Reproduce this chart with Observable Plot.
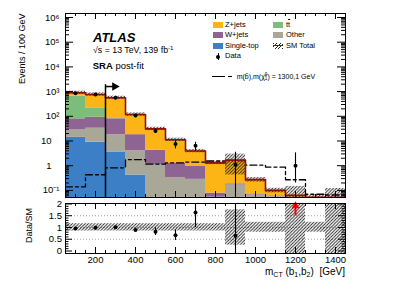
<!DOCTYPE html>
<html><head><meta charset="utf-8">
<script src="https://cdn.jsdelivr.net/npm/d3@7"></script>
<script src="https://cdn.jsdelivr.net/npm/@observablehq/plot@0.6"></script>
<style>
body{margin:0;background:#fff;font-family:"Liberation Sans",Arial,Helvetica,sans-serif;}
#wrap{position:relative;width:399px;height:286px;overflow:hidden;background:#fff;}
#main,#ratio{position:absolute;left:0;}
#main{top:0}
#ratio{top:200px}
.t{position:absolute;white-space:nowrap;color:#000;line-height:1;}
.sb{font-size:70%;position:relative;top:0.3em;}
.sp{font-size:70%;position:relative;top:-0.45em;}
.sw{position:absolute;}
</style></head><body><div id="wrap"><div id="main"></div><div id="ratio"></div></div>
<script>
// ---------------- data ----------------
const binCenter = [100,200,300,400,500,600,700,800,900,1000,1100,1200,1300,1400];
const binWidth = 100;
const singleTop = [14, 8.9, 3.6, 0.42, 0, 0, 0, 0, 0, 0, 0, 0, 0, 0];
const other     = [14, 24, 14.4, 3.6, 1.1, 0.33, 0.28, 0.053, 0.165, 0.065, 0.055, 0.05, 0.05, 0.05];
const wJets     = [51, 59, 61, 14, 3.1, 0.9, 0.65, 0.025, 0.02, 0.007, 0.005, 0.003, 0.002, 0.001];
const ttbar     = [571, 128, 2, 0, 0, 0, 0, 0, 0, 0, 0, 0, 0, 0];
const zJets     = [245, 545, 480, 100, 26.8, 10, 3.0, 1.22, 1.5, 0.2, 0.04, 0.01, 0.001, 0.001];
const signal    = [0.14, 0.43, 0.82, 1.75, 1.15, 1.3, 1.4, 1.55, 1.6, 1.05, 0.88, 0.27, 0.07, 0.065];
const dataVal   = [860, 757, 567, 108, 25.4, 7.5, 6.4, 0, 1.1, 0, 0, 1.0, 0, 0];
const dataLow   = [830, 730, 543, 98, 20.4, 4.8, 3.9, 0, 0.01, 0, 0, 0.2, 0, 0];
const dataHigh  = [890, 785, 591, 118, 30.4, 10.2, 8.9, 0, 3.5, 0, 0, 3.3, 0, 0];
const ratioVal  = [0.96, 0.99, 1.01, 0.89, 0.82, 0.67, 1.64, null, 0.65, null, null, null, null, null];
const ratioLow  = [0.93, 0.96, 0.97, 0.84, 0.66, 0.45, 1.0, null, -0.3, null, null, null, null, null];
const ratioHigh = [0.99, 1.02, 1.05, 0.94, 0.98, 0.89, 2.3, null, 2.5, null, null, null, null, null];
const bandLow   = [0.85, 0.85, 0.85, 0.85, 0.85, 0.85, 0.85, 0.85, 0.25, 0.8, 0.8, -0.3, 0.8, -0.3];
const bandHigh  = [1.16, 1.16, 1.16, 1.16, 1.16, 1.16, 1.16, 1.16, 1.75, 1.22, 1.22, 2.3, 1.22, 2.3];
const offScaleBins = [1200];
const cutValue = [250];
const cutTop = 1900, cutArrowY = 1600, cutArrowEnd = 292;
const xTicks = [200,400,600,800,1000,1200,1400];
const xTickLabels = ["200","400","600","800","1000","1200","1400"];
const yExpTicks = [0.1,100,1000,1e4,1e5,1e6];
const yExpLabels = ["10\u207B\u00B9","10\u00B2","10\u00B3","10\u2074","10\u2075","10\u2076"];
const yPlainTicks = [1,10];
const yPlainLabels = ["1","10"];
const rTicks = [0,0.5,1,1.5,2];
const rTickLabels = ["0","0.5","1","1.5","2"];

const colors = {st:"#3d7fc6", other:"#a9a797", w:"#8d6492", tt:"#7dbd7a", z:"#fdb515", total:"#8b1010"};

// ---------------- derived ----------------
const FLOOR = 1e-3;
const comps = [
  {vals: singleTop, color: colors.st},
  {vals: other, color: colors.other},
  {vals: wJets, color: colors.w},
  {vals: ttbar, color: colors.tt},
  {vals: zJets, color: colors.z}
];
const total = binCenter.map((c,i)=>comps.reduce((s,k)=>s+k.vals[i],0));
const compRows = comps.map(k=>{
  return binCenter.map((c,i)=>{
    let cum = 0; for (const kk of comps){ if (kk===k) break; cum += kk.vals[i]; }
    return {x1:c-binWidth/2, x2:c+binWidth/2, y1:Math.max(cum,FLOOR), y2:cum+k.vals[i], v:k.vals[i]};
  }).filter(d=>d.v>0);
});
const stepOf = arr => binCenter.map((c,i)=>({x:c-binWidth/2,y:arr[i]})).concat([{x:binCenter[binCenter.length-1]+binWidth/2,y:arr[arr.length-1]}]);
const mainBand = binCenter.map((c,i)=>({x1:c-binWidth/2,x2:c+binWidth/2,y1:Math.max(total[i]*bandLow[i],FLOOR),y2:total[i]*bandHigh[i]}));
const ratioBand = binCenter.map((c,i)=>({x1:c-binWidth/2,x2:c+binWidth/2,y1:bandLow[i],y2:bandHigh[i]}));
const dataRows = binCenter.map((c,i)=>({x:c,y:dataVal[i],lo:dataLow[i],hi:dataHigh[i]})).filter(d=>d.y>0);
const ratioRows = binCenter.map((c,i)=>({x:c,y:ratioVal[i],lo:ratioLow[i],hi:ratioHigh[i]})).filter(d=>d.y!=null);

const W = 399;
const mainH = 200, mm = {top:13,right:54,bottom:3,left:65};
const fH = mainH - mm.top - mm.bottom, fW = W - mm.left - mm.right;
const ratioH = 86, rm = {top:3,right:54,bottom:33,left:65};
const rH = ratioH - rm.top - rm.bottom;

const xMinor = d3.range(100,1450,50).filter(v=>v%200!==0);
const logMajor = [0.1,1,10,100,1e3,1e4,1e5,1e6];
const logMinor = [];
for (let e=-2;e<=6;e++) for (let k=2;k<=9;k++){ const v=k*Math.pow(10,e); if (v>0.0516 && v<1.45e6) logMinor.push(v); }
const rMinor = d3.range(0,2.01,0.1).map(v=>+v.toFixed(2)).filter(v=>!rTicks.includes(v));

const font = {fontFamily:"Liberation Sans, Arial, Helvetica, sans-serif", fontSize:"9.5px", background:"transparent", overflow:"visible"};
const expLabel = d => yExpLabels[yExpTicks.indexOf(d)];
const plainLabel = d => yPlainLabels[yPlainTicks.indexOf(d)];
const hatchDef = id => '<pattern id="'+id+'" patternUnits="userSpaceOnUse" width="3.2" height="3.2"><path d="M0,3.2 L3.2,0 M-1,1 L1,-1 M2.2,4.2 L4.2,2.2" stroke="#1a1a1a" stroke-width="0.85"/></pattern>';

// ---------------- main panel ----------------
const main = Plot.plot({
  width: W, height: mainH,
  marginTop: mm.top, marginRight: mm.right, marginBottom: mm.bottom, marginLeft: mm.left,
  style: font,
  x: {domain:[50,1450], axis:null},
  y: {type:"log", domain:[0.0516,1.45e6], axis:null},
  marks: [
    ...comps.map((k,j)=>Plot.rect(compRows[j], {x1:"x1",x2:"x2",y1:"y1",y2:"y2",fill:k.color,clip:true})),
    Plot.rect(mainBand, {x1:"x1",x2:"x2",y1:"y1",y2:"y2",fill:"url(#hatchM)",clip:true}),
    Plot.line(stepOf(signal), {x:"x",y:"y",curve:"step-after",stroke:"black",strokeWidth:1.3,strokeDasharray:"7,3,3,3",clip:true}),
    Plot.line(stepOf(total), {x:"x",y:"y",curve:"step-after",stroke:colors.total,strokeWidth:1.6,clip:true}),
    Plot.ruleX(cutValue, {x:d=>d, y1:FLOOR, y2:cutTop, stroke:"black", strokeWidth:1.5, clip:true}),
    Plot.ruleY([cutArrowY], {y:d=>d, x1:cutValue[0], x2:cutArrowEnd, stroke:"black", strokeWidth:1.5}),
    Plot.dot([cutArrowY], {x:cutArrowEnd+4, y:d=>d, symbol:"triangle", rotate:90, r:3.2, fill:"black", stroke:"none"}),
    Plot.ruleX(dataRows, {x:"x", y1:"lo", y2:"hi", stroke:"black", strokeWidth:1.1, clip:true}),
    Plot.dot(dataRows, {x:"x", y:"y", r:2, fill:"black", stroke:"none"}),
    // ticks
    Plot.tickX(xTicks, {x:d=>d, insetTop:fH-6, stroke:"black"}),
    Plot.tickX(xMinor, {x:d=>d, insetTop:fH-3, stroke:"black"}),
    Plot.tickX(xTicks, {x:d=>d, insetBottom:fH-6, stroke:"black"}),
    Plot.tickX(xMinor, {x:d=>d, insetBottom:fH-3, stroke:"black"}),
    Plot.tickY(logMajor, {y:d=>d, insetRight:fW-8, stroke:"black"}),
    Plot.tickY(logMinor, {y:d=>d, insetRight:fW-4, stroke:"black"}),
    Plot.tickY(logMajor, {y:d=>d, insetLeft:fW-8, stroke:"black"}),
    Plot.tickY(logMinor, {y:d=>d, insetLeft:fW-4, stroke:"black"}),
    Plot.axisY(yExpTicks, {anchor:"left", tickSize:0, tickPadding:6, tickFormat:expLabel, fontSize:9.5, label:null}),
    Plot.axisY(yPlainTicks, {anchor:"left", tickSize:0, tickPadding:14, tickFormat:plainLabel, fontSize:9.5, label:null}),
    Plot.frame({stroke:"black", strokeWidth:1})
  ]
});
d3.select(main).insert("defs", ":first-child").html(hatchDef("hatchM"));
document.getElementById("main").appendChild(main);

// ---------------- ratio panel ----------------
const ratio = Plot.plot({
  width: W, height: ratioH,
  marginTop: rm.top, marginRight: rm.right, marginBottom: rm.bottom, marginLeft: rm.left,
  style: font,
  x: {domain:[50,1450], axis:null},
  y: {domain:[-0.106,2.02], axis:null},
  marks: [
    Plot.ruleY([0.5,1,1.5], {y:d=>d, stroke:"#888", strokeDasharray:"1,2", strokeWidth:0.8}),
    Plot.rect(ratioBand, {x1:"x1",x2:"x2",y1:"y1",y2:"y2",fill:"url(#hatchR)",clip:true}),
    Plot.ruleX(ratioRows, {x:"x", y1:"lo", y2:"hi", stroke:"black", strokeWidth:1.1, clip:true}),
    Plot.dot(ratioRows, {x:"x", y:"y", r:2, fill:"black", stroke:"none"}),
    Plot.ruleX(offScaleBins, {x:d=>d, y1:1.5, y2:1.88, stroke:"#ff0000", strokeWidth:2}),
    Plot.dot(offScaleBins, {x:d=>d, y:1.92, symbol:"triangle", r:3, fill:"#ff0000", stroke:"none"}),
    Plot.tickX(xTicks, {x:d=>d, insetTop:rH-6, stroke:"black"}),
    Plot.tickX(xMinor, {x:d=>d, insetTop:rH-3, stroke:"black"}),
    Plot.tickX(xTicks, {x:d=>d, insetBottom:rH-6, stroke:"black"}),
    Plot.tickX(xMinor, {x:d=>d, insetBottom:rH-3, stroke:"black"}),
    Plot.tickY(rTicks, {y:d=>d, insetRight:fW-7, stroke:"black"}),
    Plot.tickY(rMinor, {y:d=>d, insetRight:fW-3.5, stroke:"black"}),
    Plot.tickY(rTicks, {y:d=>d, insetLeft:fW-7, stroke:"black"}),
    Plot.tickY(rMinor, {y:d=>d, insetLeft:fW-3.5, stroke:"black"}),
    Plot.axisY(rTicks, {anchor:"left", tickSize:0, tickPadding:3.5, tickFormat:d=>rTickLabels[rTicks.indexOf(d)], fontSize:9.5, label:null}),
    Plot.axisX(xTicks, {anchor:"bottom", tickSize:0, tickPadding:3, tickFormat:d=>xTickLabels[xTicks.indexOf(d)], fontSize:9.5, label:null}),
    Plot.frame({stroke:"black", strokeWidth:1})
  ]
});
d3.select(ratio).insert("defs", ":first-child").html(hatchDef("hatchR"));
document.getElementById("ratio").appendChild(ratio);

// ---------------- texts & legend ----------------
const wrap = document.getElementById("wrap");
function addText(html, left, top, size, extra){
  const el = document.createElement("div");
  el.className = "t";
  el.innerHTML = html;
  el.style.left = left+"px"; el.style.top = top+"px"; el.style.fontSize = size+"px";
  if (extra) Object.assign(el.style, extra);
  wrap.appendChild(el);
  return el;
}
function addBox(left, top, w, h, style){
  const el = document.createElement("div");
  el.className = "sw";
  Object.assign(el.style, {left:left+"px", top:top+"px", width:w+"px", height:h+"px"}, style||{});
  wrap.appendChild(el);
  return el;
}
addText("ATLAS", 93, 31, 13, {fontWeight:"bold", fontStyle:"italic"});
addText('\u221As = 13 TeV, 139 fb<span class="sp">-1</span>', 93, 46, 8.8);
addText("<b>SRA</b> post-fit", 92.7, 61.2, 9.5);

const legFs = 7.5;
const legL = [["Z+jets", colors.z, 24.7], ["W+jets", colors.w, 35], ["Single-top", colors.st, 45.7]];
legL.forEach(([name,col,cy])=>{
  addBox(212.7, cy-3, 10, 6, {background:col});
  addText(name, 225, cy-0.49*legFs, legFs);
});
const legR = [['t<span style="text-decoration:overline">t</span>', colors.tt, 24.7], ["Other", colors.other, 35]];
legR.forEach(([name,col,cy])=>{
  addBox(273.3, cy-3, 10, 6, {background:col});
  addText(name, 286, cy-0.49*legFs, legFs);
});
addBox(273.3, 42.7, 10, 6, {background:"repeating-linear-gradient(135deg, #222 0 0.8px, transparent 0.8px 2.5px)"});
addBox(273.3, 45.1, 10, 1.3, {background:colors.total});
addText("SM Total", 286, 45.7-0.49*legFs, legFs);
addBox(217.8, 52.5, 1, 7, {background:"#000"});
addBox(216.3, 54.5, 4, 4, {background:"#000", borderRadius:"50%"});
addText("Data", 225, 56-0.49*legFs, legFs);
addBox(211.7, 76.2, 13, 1.2, {background:"#000"});
addBox(228, 76.2, 4, 1.2, {background:"#000"});
addText('m(b\u0303),m(\u03C7\u0303<span style="display:inline-block;vertical-align:middle;font-size:65%;line-height:0.85;text-align:left"><span style="display:block">0</span><span style="display:block">1</span></span>) = 1300,1 GeV', 236.7, 73.2, 7);

// axis titles
const xt = addText('m<span class="sb">CT</span> (b<span class="sb">1</span>,b<span class="sb">2</span>)&nbsp; [GeV]', 0, 266.5, 10);
xt.style.left = (345 - xt.offsetWidth) + "px";

function rotText(html, cx, anchorY, size, mode){
  const el = addText(html, 0, 0, size, {transformOrigin:"left top", transform:"rotate(-90deg)"});
  const w = el.offsetWidth, h = el.offsetHeight;
  el.style.left = (cx - h/2) + "px";
  el.style.top = (mode==="end" ? anchorY + w : anchorY + w/2) + "px";
  return el;
}
rotText("Events / 100 GeV", 22.7, 13.3, 9, "end");
rotText("Data/SM", 29, 225.5, 9, "middle");
</script>
</body></html>
